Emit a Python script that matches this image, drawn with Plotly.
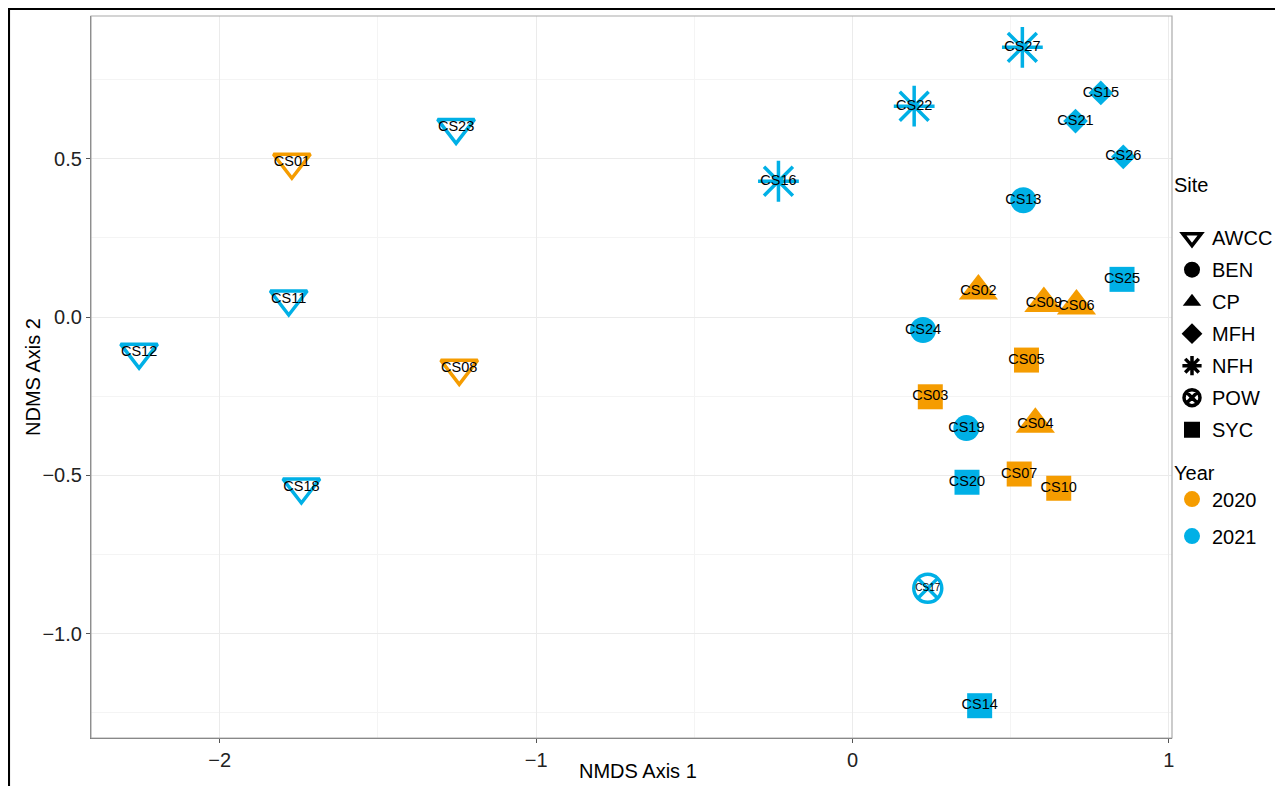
import plotly.graph_objects as go

# ---- data ----
labels = ["CS01", "CS02", "CS03", "CS04", "CS05", "CS06", "CS07", "CS08", "CS09", "CS10",
          "CS11", "CS12", "CS13", "CS14", "CS15", "CS16", "CS17", "CS18", "CS19", "CS20",
          "CS21", "CS22", "CS23", "CS24", "CS25", "CS26", "CS27"]
nmds1 = [-1.772, 0.398, 0.246, 0.578, 0.550, 0.708, 0.527, -1.243, 0.605, 0.652,
         -1.782, -2.255, 0.540, 0.402, 0.785, -0.234, 0.238, -1.742, 0.360, 0.362,
         0.705, 0.195, -1.253, 0.223, 0.852, 0.856, 0.537]
nmds2 = [0.489, 0.082, -0.252, -0.339, -0.136, 0.035, -0.496, -0.162, 0.043, -0.541,
         0.057, -0.111, 0.369, -1.228, 0.708, 0.429, -0.857, -0.537, -0.351, -0.522,
         0.619, 0.666, 0.599, -0.041, 0.119, 0.506, 0.852]
site = ["AWCC", "CP", "SYC", "CP", "SYC", "CP", "SYC", "AWCC", "CP", "SYC",
        "AWCC", "AWCC", "BEN", "SYC", "MFH", "NFH", "POW", "AWCC", "BEN", "SYC",
        "MFH", "NFH", "AWCC", "BEN", "SYC", "MFH", "NFH"]
year = ["2020", "2020", "2020", "2020", "2020", "2020", "2020", "2020", "2020", "2020",
        "2021", "2021", "2021", "2021", "2021", "2021", "2021", "2021", "2021", "2021",
        "2021", "2021", "2021", "2021", "2021", "2021", "2021"]

site_levels = ["AWCC", "BEN", "CP", "MFH", "NFH", "POW", "SYC"]
year_levels = ["2020", "2021"]

# ---- styles ----
year_colors = {"2020": "#F59C00", "2021": "#00B0E6"}
site_style = {
    "AWCC": dict(symbol="triangle-down-open", size=32, lw=3.5),
    "BEN": dict(symbol="circle", size=26, lw=0),
    "CP": dict(symbol="triangle-up", size=34, lw=0),
    "MFH": dict(symbol="diamond", size=19, lw=0),
    "NFH": dict(symbol="asterisk-open", size=34, lw=3.5),
    "POW": dict(symbol="circle-x-open", size=28, lw=3.5),
    "SYC": dict(symbol="square", size=25, lw=0),
}
FONT = "Liberation Sans, Arial, Helvetica, sans-serif"

fig = go.Figure()

# data markers, one trace per site x year
for s in site_levels:
    st = site_style[s]
    for yv in year_levels:
        idx = [i for i in range(len(labels)) if site[i] == s and year[i] == yv]
        if not idx:
            continue
        col = year_colors[yv]
        fig.add_trace(go.Scatter(
            x=[nmds1[i] for i in idx], y=[nmds2[i] for i in idx],
            mode="markers", showlegend=False, hoverinfo="skip",
            marker=dict(symbol=st["symbol"], size=st["size"], color=col,
                        line=dict(color=col, width=st["lw"])),
        ))

# text labels on top
text_sizes = [10 if lab == "CS17" else 14.5 for lab in labels]
fig.add_trace(go.Scatter(
    x=nmds1, y=nmds2, text=labels, mode="text", textposition="middle center",
    textfont=dict(family=FONT, size=text_sizes, color="black"),
    showlegend=False, hoverinfo="skip",
))

# legend entries: Site (black shapes)
for s in site_levels:
    st = site_style[s]
    fig.add_trace(go.Scatter(
        x=[None], y=[None], mode="markers", name=s, legend="legend",
        legendgroup="site_" + s,
        marker=dict(symbol=st["symbol"], size=st["size"], color="black",
                    line=dict(color="black", width=st["lw"])),
    ))
# legend entries: Year (colored circles)
for yv in year_levels:
    fig.add_trace(go.Scatter(
        x=[None], y=[None], mode="markers", name=yv, legend="legend2",
        legendgroup="year_" + yv,
        marker=dict(symbol="circle", size=26, color=year_colors[yv], line=dict(width=0)),
    ))

grid_major = "#EBEBEB"
grid_minor = "#F4F4F4"
leg_font = dict(size=20, family=FONT, color="black")

fig.update_layout(
    width=1283, height=786,
    margin=dict(l=83, r=119, t=8, b=56, autoexpand=False),
    paper_bgcolor="white", plot_bgcolor="white",
    font=dict(family=FONT, size=20, color="black"),
    xaxis=dict(
        range=[-2.407, 1.010], tickvals=[-2, -1, 0, 1], ticks="outside", ticklen=4,
        tickcolor="#555555", tickfont=dict(size=20, color="#222222"),
        showgrid=True, gridcolor=grid_major, gridwidth=1.2, zeroline=False,
        minor=dict(tickvals=[-1.5, -0.5, 0.5], showgrid=True, gridcolor=grid_minor, gridwidth=1),
        showline=True, linecolor="#666666", linewidth=1.2, mirror=False,
    ),
    yaxis=dict(
        range=[-1.330, 0.951], tickvals=[0.5, 0.0, -0.5, -1.0], tickformat=".1f",
        ticks="outside", ticklen=4, tickcolor="#555555", tickfont=dict(size=20, color="#222222"),
        showgrid=True, gridcolor=grid_major, gridwidth=1.2, zeroline=False,
        minor=dict(tickvals=[0.75, 0.25, -0.25, -0.75, -1.25], showgrid=True, gridcolor=grid_minor, gridwidth=1),
        showline=True, linecolor="#666666", linewidth=1.2, mirror=False,
    ),
    legend=dict(
        x=1.0, y=0.792, xanchor="left", yanchor="top",
        title=dict(text="Site<br> ", font=leg_font),
        font=leg_font, tracegroupgap=3, itemsizing="trace", bgcolor="rgba(0,0,0,0)",
    ),
    legend2=dict(
        x=1.0, y=0.394, xanchor="left", yanchor="top",
        title=dict(text="Year", font=leg_font),
        font=leg_font, tracegroupgap=8, itemsizing="trace", bgcolor="rgba(0,0,0,0)",
    ),
    annotations=[
        dict(text="NMDS Axis 1", xref="paper", yref="paper", x=0.506, y=-0.0457,
             xanchor="center", yanchor="middle", showarrow=False, font=dict(size=20, color="black")),
        dict(text="NDMS Axis 2", xref="paper", yref="paper", x=-0.0537, y=0.5,
             xanchor="center", yanchor="middle", textangle=-90, showarrow=False,
             font=dict(size=20, color="black")),
    ],
    shapes=[
        dict(type="rect", xref="paper", yref="paper", x0=0, x1=1, y0=0, y1=1,
             line=dict(color="#AAAAAA", width=1.2), layer="above"),
        dict(type="rect", xref="paper", yref="paper",
             x0=-0.0759, x1=1.2, y0=-0.1, y1=1.0097,
             line=dict(color="black", width=2.2), layer="above"),
    ],
)

fig.write_html("out.html")
